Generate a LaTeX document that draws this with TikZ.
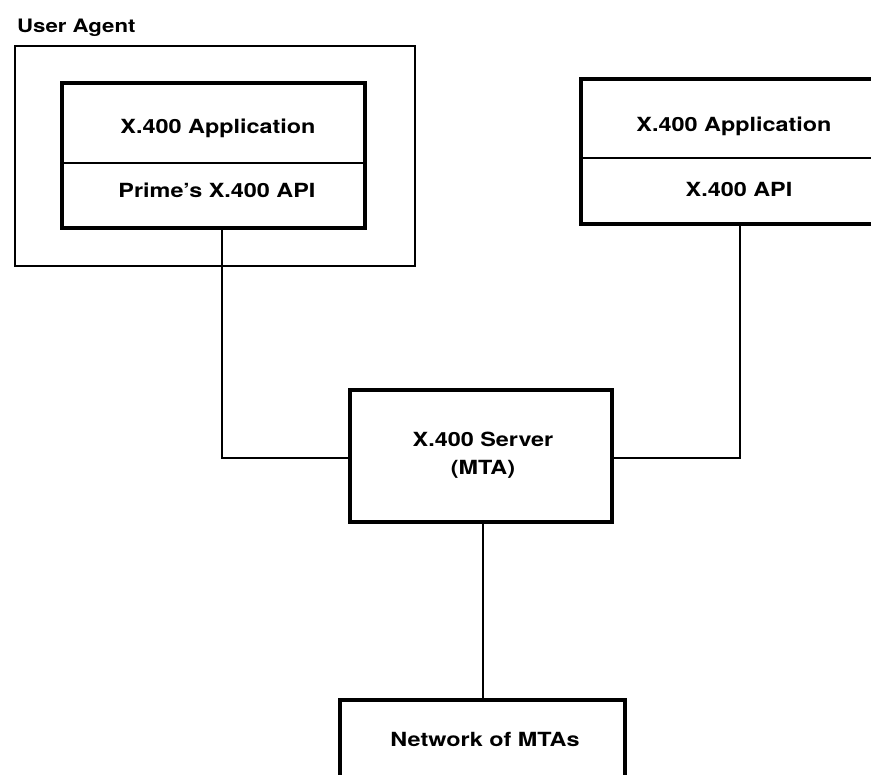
\documentclass[tikz,border=0pt]{standalone}
\usepackage{fontspec}
\setmainfont{TeX Gyre Heros}[FakeStretch=1.2]
\usetikzlibrary{fit}
\begin{document}
\begin{tikzpicture}[x=1pt,y=-1pt,
  frame/.style={draw, line width=3.8pt, rectangle, inner sep=0pt},
  part/.style={draw, line width=1.3pt, rectangle, inner sep=0pt},
  group/.style={draw, line width=1.6pt, rectangle, inner sep=0pt},
  lbl/.style={font=\fontsize{19.5}{28}\selectfont\bfseries, align=center, inner sep=0pt, anchor=base},
  wire/.style={line width=1.4pt}]
\useasboundingbox (0,0) rectangle (871,775);
\clip (0,0) rectangle (871,775);

% User agent enclosure
\node[group, minimum width=400, minimum height=220] (ua) at (215,156) {};
\node[lbl, font=\fontsize{18.5}{22}\selectfont\bfseries, anchor=base west] (ualbl) at (17,33) {User Agent};

% Left application stack
\node[part, minimum width=301, minimum height=79] (lapp) at (213.5,123.5) {};
\node[part, minimum width=301, minimum height=64] (lapi) at (213.5,195) {};
\node[frame, fit=(lapp)(lapi)] (lbox) {};
\node[lbl] (lapptxt) at (218,134) {X.400 Application};
\node[lbl] (lapitxt) at (217,198) {Prime’s X.400 API};

% Right application stack
\node[part, minimum width=304, minimum height=78] (rapp) at (734,119) {};
\node[part, minimum width=304, minimum height=65] (rapi) at (734,190.5) {};
\node[frame, fit=(rapp)(rapi)] (rbox) {};
\node[lbl] (rapptxt) at (734,132) {X.400 Application};
\node[lbl] (rapitxt) at (739,197) {X.400 API};

% Server (base anchor sits on the last line)
\node[frame, minimum width=262, minimum height=132] (srv) at (481,456) {};
\node[lbl] (srvtxt) at (483,475) {X.400 Server\\(MTA)};

% Network
\node[frame, minimum width=285, minimum height=100] (net) at (482.5,750) {};
\node[lbl] (nettxt) at (485,746) {Network of MTAs};

% Connections
\draw[wire] ([xshift=8.5pt]lbox.south) |- ([yshift=-2pt]srv.west);
\draw[wire] ([xshift=6pt]rbox.south) |- ([yshift=-2pt]srv.east);
\draw[wire] ([xshift=2pt]srv.south) -- ([xshift=2pt]srv.south |- net.north);
\end{tikzpicture}
\end{document}
